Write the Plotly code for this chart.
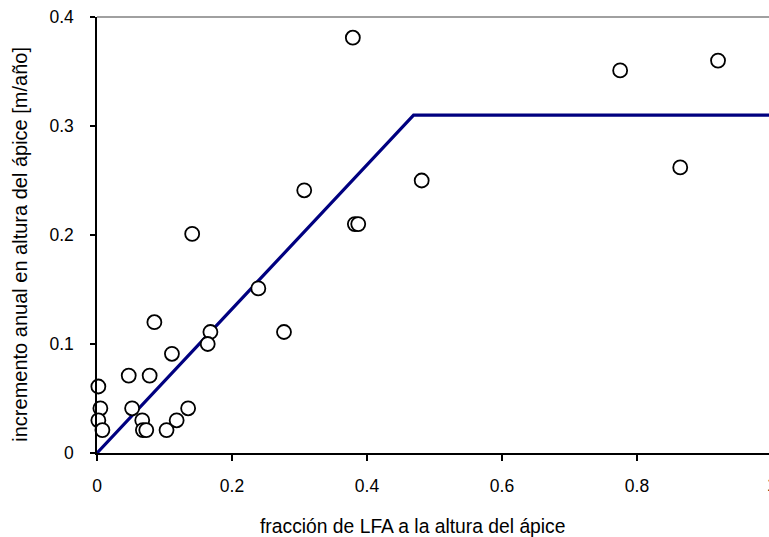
import plotly.graph_objects as go

# fracción de LFA a la altura del ápice vs. incremento anual (m/año)
lfa_fraction = [0.002, 0.005, 0.002, 0.008, 0.047, 0.078, 0.052, 0.067, 0.068, 0.073,
                0.103, 0.118, 0.135, 0.141, 0.307, 0.382, 0.387, 0.481, 0.239, 0.085,
                0.277, 0.168, 0.164, 0.111, 0.775, 0.920, 0.864, 0.379]
height_increment = [0.061, 0.041, 0.030, 0.021, 0.071, 0.071, 0.041, 0.030, 0.021, 0.021,
                    0.021, 0.030, 0.041, 0.201, 0.241, 0.210, 0.210, 0.250, 0.151, 0.120,
                    0.111, 0.111, 0.100, 0.091, 0.351, 0.360, 0.262, 0.381]

# Modelo lineal con meseta
model_x = [0.0, 0.469, 1.0]
model_y = [0.0, 0.310, 0.310]

x_ticks = [0, 0.2, 0.4, 0.6, 0.8, 1]
x_tick_text = ["0", "0.2", "0.4", "0.6", "0.8", "1"]
y_ticks = [0, 0.1, 0.2, 0.3, 0.4]
y_tick_text = ["0", "0.1", "0.2", "0.3", "0.4"]

x_title = "fracción de LFA a la altura del ápice"
y_title = "incremento anual en altura del ápice [m/año]"

FONT = "Liberation Sans, Arial, sans-serif"
TICK_SIZE = 17.5
X_MAX = 0.9955

fig = go.Figure()
fig.add_trace(go.Scatter(
    x=model_x, y=model_y, mode="lines",
    line=dict(color="#000080", width=3.2),
    hoverinfo="skip", showlegend=False,
))
fig.add_trace(go.Scatter(
    x=lfa_fraction, y=height_increment, mode="markers",
    marker=dict(symbol="circle", size=14, color="white",
                line=dict(color="black", width=1.8)),
    showlegend=False, cliponaxis=False,
))

fig.update_xaxes(
    range=[0, X_MAX], tickvals=x_ticks, ticktext=x_tick_text,
    ticks="outside", ticklen=6, tickwidth=1.5, tickcolor="black",
    showline=True, linecolor="black", linewidth=1.5,
    showgrid=False, zeroline=False,
    tickfont=dict(family=FONT, size=TICK_SIZE, color="black"),
    ticklabelstandoff=10,
)
fig.update_yaxes(
    range=[0, 0.4], tickvals=y_ticks, ticktext=y_tick_text,
    ticks="outside", ticklen=5, tickwidth=1.5, tickcolor="black",
    showline=True, linecolor="black", linewidth=1.5,
    showgrid=False, zeroline=False,
    tickfont=dict(family=FONT, size=TICK_SIZE, color="black"),
    ticklabelstandoff=13,
)

# axis titles
fig.add_annotation(x=0.4695, y=-0.169, xref="paper", yref="paper", text=x_title,
                   showarrow=False, xanchor="center", yanchor="middle",
                   font=dict(family=FONT, size=19.3, color="black"))
fig.add_annotation(x=-0.1146, y=0.48, xref="paper", yref="paper", text=y_title,
                   showarrow=False, xanchor="center", yanchor="middle", textangle=-90,
                   font=dict(family=FONT, size=20, color="black"))

# "1" tick label sits just past the cut-off right edge of the plot
fig.add_annotation(x=1 / X_MAX, y=0, xref="paper", yref="paper", text=x_tick_text[-1],
                   showarrow=False, xanchor="center", yanchor="middle", yshift=-32,
                   font=dict(family=FONT, size=TICK_SIZE, color="black"))

# grey top border of the plot area
fig.add_shape(type="line", xref="paper", yref="paper", x0=0, x1=1, y0=1, y1=1,
              line=dict(color="#808080", width=1.5))

fig.update_layout(
    width=769, height=537,
    margin=dict(l=97, r=0, t=17, b=84),
    plot_bgcolor="white", paper_bgcolor="white",
)

fig.write_html("out.html")
